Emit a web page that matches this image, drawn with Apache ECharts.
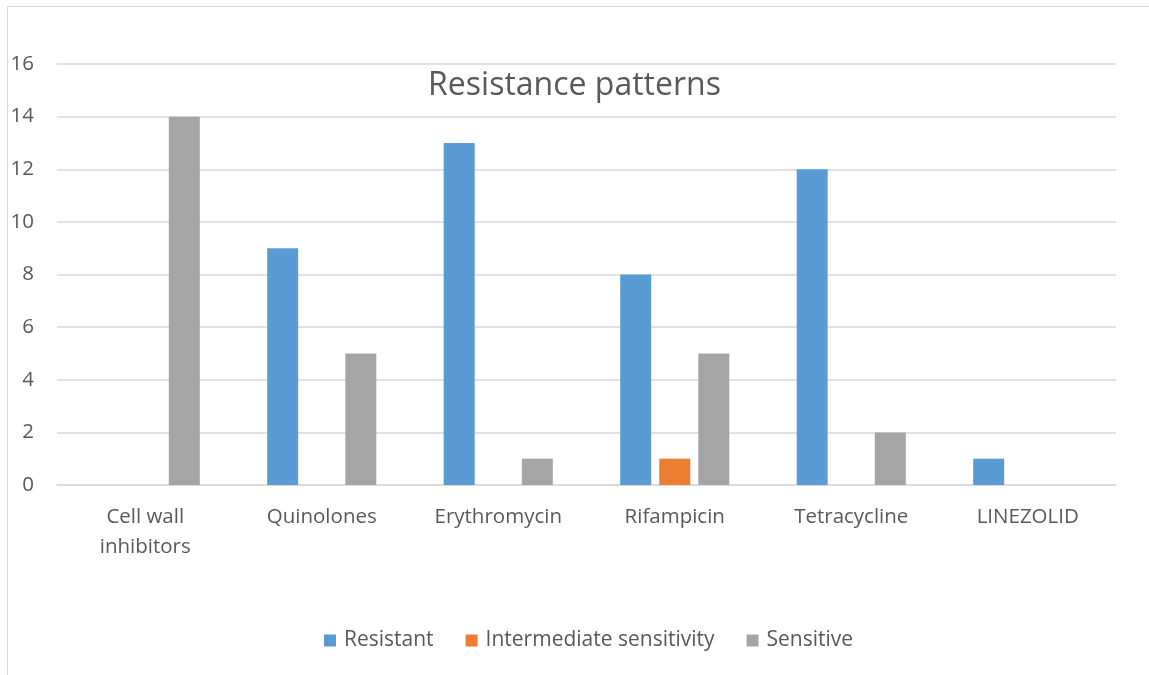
<!DOCTYPE html>
<html>
<head>
<meta charset="utf-8">
<script src="https://cdn.jsdelivr.net/npm/echarts@6/dist/echarts.min.js"></script>
<style>
  html, body { margin: 0; padding: 0; background: #fff; overflow: hidden; }
  #frame { position: absolute; left: 7px; top: 6px; width: 1160px; height: 700px; border: 1px solid #d9d9d9; }
  #chart { position: absolute; left: 0; top: 0; width: 1149px; height: 675px; }
</style>
</head>
<body>
<div id="frame"></div>
<div id="chart"></div>
<script>
// categories and values
var categories = ['Cell wall\ninhibitors', 'Quinolones', 'Erythromycin', 'Rifampicin', 'Tetracycline', 'LINEZOLID'];
var resistant = [0, 9, 13, 8, 12, 1];
var intermediate = [0, 0, 0, 1, 0, 0];
var sensitive = [14, 5, 1, 5, 2, 0];
var seriesNames = ['Resistant', 'Intermediate sensitivity', 'Sensitive'];
var seriesColors = ['#5b9bd5', '#ed7d31', '#a5a5a5'];

var font = 'Open Sans';
var allData = [resistant, intermediate, sensitive];

var chart = echarts.init(document.getElementById('chart'));

var series = allData.map(function (d, i) {
  return {
    name: seriesNames[i],
    type: 'bar',
    barWidth: 31,
    barGap: '26%',
    // hide zero bars like the original
    data: d.map(function (v) { return v === 0 ? null : v; }),
    itemStyle: { color: seriesColors[i] }
  };
});

chart.setOption({
  animation: false,
  title: {
    text: 'Resistance patterns',
    left: 'center',
    top: 65,
    textStyle: { fontFamily: font, fontSize: 32, fontWeight: 'normal', color: '#595959' }
  },
  legend: {
    bottom: 19,
    left: 319,
    itemWidth: 12,
    itemHeight: 12,
    itemGap: 32,
    icon: 'rect',
    data: seriesNames,
    textStyle: { fontFamily: font, fontSize: 21, color: '#595959', padding: [0, 0, 0, 3] }
  },
  grid: { left: 57, right: 33, top: 64, bottom: 190, containLabel: false },
  xAxis: {
    type: 'category',
    data: categories,
    axisLine: { lineStyle: { color: '#d9d9d9', width: 1.5 } },
    axisTick: { show: false },
    axisLabel: { fontFamily: font, fontSize: 20.5, color: '#595959', margin: 17, lineHeight: 30, interval: 0 }
  },
  yAxis: {
    type: 'value',
    min: 0,
    max: 16,
    interval: 2,
    axisLine: { show: false },
    axisTick: { show: false },
    splitLine: { lineStyle: { color: '#d9d9d9', width: 1.5 } },
    axisLabel: { fontFamily: font, fontSize: 20.5, color: '#595959', margin: 23 }
  },
  series: series
});
</script>
</body>
</html>
